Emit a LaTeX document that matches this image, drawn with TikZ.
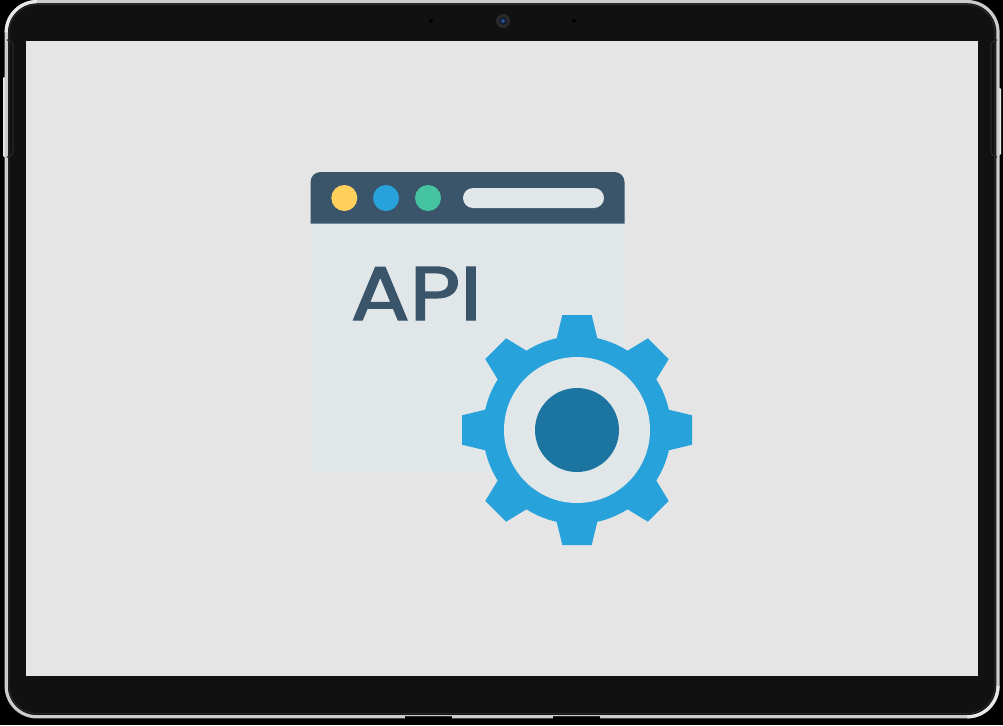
\documentclass[tikz,border=0pt]{standalone}
\usepackage{fontspec}
\newfontfamily\apifont{Poppins}[FakeBold=1.9]
\definecolor{bezel}{HTML}{111111}
\definecolor{rim}{HTML}{CCCCCC}
\definecolor{rimlight}{HTML}{E8E8E8}
\definecolor{slot}{HTML}{282828}
\definecolor{screen}{HTML}{E5E5E5}
\definecolor{pane}{HTML}{E1E6E9}
\definecolor{navy}{HTML}{3A556A}
\definecolor{dotyellow}{HTML}{FFD15C}
\definecolor{dotblue}{HTML}{27A2DB}
\definecolor{dotgreen}{HTML}{44C4A1}
\definecolor{hub}{HTML}{1C75A1}
\definecolor{camring}{HTML}{2A2A2A}
\definecolor{camlens}{HTML}{1D4E89}
\definecolor{camdark}{HTML}{141B2A}
\tikzset{x=0.75pt,y=-0.75pt,
  dot/.style={radius=13},
  highlight/.style={draw=rimlight,line width=2.3pt,line cap=butt},
  slotline/.style={draw=slot,line width=0.9pt,rounded corners=4.5pt}}
\begin{document}
\begin{tikzpicture}
\useasboundingbox (0,0) rectangle (1003,725);
\fill[black] (0,0) rectangle (1003,725);
% side buttons
\fill[rimlight,rounded corners=0.8pt] (3,77) rectangle (7,157);
\fill[rimlight,rounded corners=0.8pt] (996,88) rectangle (1001,155);
% device body
\draw[rim,fill=bezel,line width=2.4pt,rounded corners=23pt] (6.2,1.6) rectangle (998,716.8);
\draw[slot,line width=0.8pt,rounded corners=21pt] (9,4.6) rectangle (995,713.6);
% rim highlights at two corners
\draw[highlight] (6.2,32.3) arc [start angle=180,end angle=270,radius=30.7];
\draw[highlight] (998,686.1) arc [start angle=0,end angle=90,radius=30.7];
% bottom buttons
\fill[black,rounded corners=1pt] (405,716) rectangle (452,722);
\fill[black,rounded corners=1pt] (553,716) rectangle (600,722);
\fill[slot] (405,716) rectangle (452,717);
\fill[slot] (553,716) rectangle (600,717);
% side slots
\draw[slotline] (9,40) -- (13,40) -- (13,157) -- (9,157);
\draw[slotline] (995,40) -- (991,40) -- (991,157) -- (995,157);
% screen
\fill[screen] (26,41) rectangle (978,676);
% camera
\fill[camring] (503,21) circle (7);
\fill[camdark] (503,21) circle (4);
\fill[camlens] (503,21) circle (2);
\fill[black] (431,21) circle (2);
\fill[black] (574,21) circle (2);
% window
\fill[pane] (310.5,223.5) rectangle (624.5,473);
\fill[navy] (310.5,223.5) -- (310.5,182) arc [start angle=180,end angle=270,radius=10] -- (614.5,172) arc [start angle=270,end angle=360,radius=10] -- (624.5,223.5) -- cycle;
\fill[dotyellow] (344.3,198) circle [dot];
\fill[dotblue] (386,198) circle [dot];
\fill[dotgreen] (428,198) circle [dot];
\fill[pane,rounded corners=7.5pt] (463,188) rectangle (604,208);
\node[anchor=base west,inner sep=0pt,text=navy,xscale=1.15,font=\apifont\fontsize{57pt}{57pt}\selectfont] (apilabel) at (350.5,320) {API};
% gear
\begin{scope}[shift={(577,430)}]
\fill[dotblue] (0,0) circle (94);
\foreach \a in {0,45,...,315}
  \fill[dotblue,rotate=\a] (-14.7,-115) -- (14.7,-115) -- (20.5,-91) -- (-20.5,-91) -- cycle;
\fill[pane] (0,0) circle (73);
\fill[hub] (0,0) circle (42);
\end{scope}
\end{tikzpicture}
\end{document}
